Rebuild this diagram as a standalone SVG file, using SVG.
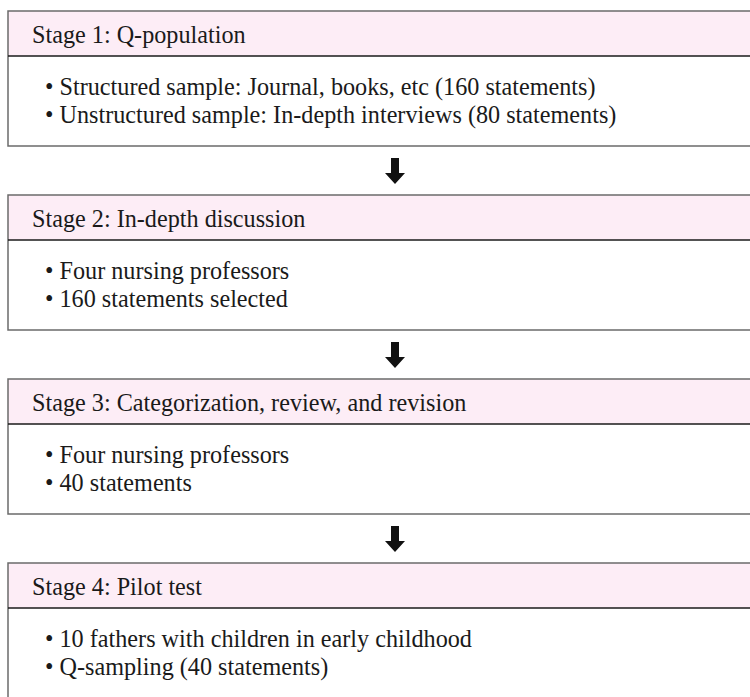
<svg xmlns="http://www.w3.org/2000/svg" width="750" height="697" viewBox="0 0 750 697">
<defs>
<style>
.hdr{fill:#fdedf6;}
.body{fill:#ffffff;}
.border{fill:none;stroke:#6b6b6b;stroke-width:1.5;}
.sep{stroke:#1a1a1a;stroke-width:1.5;}
.t{font-family:"Liberation Serif","Times New Roman",serif;font-size:24.2px;fill:#1a1a1a;}
.arrow{fill:#111111;}
</style>
</defs>
<rect x="0" y="0" width="750" height="697" fill="#ffffff"/>
<g id="stage1">
<rect class="body" x="8" y="11" width="760" height="135"/>
<rect class="hdr" x="8" y="11" width="760" height="45"/>
<path class="border" d="M760,11 H8 V146 H760"/>
<line class="sep" x1="8" y1="56" x2="760" y2="56"/>
<text class="t" x="32" y="42.5">Stage 1: Q-population</text>
<text class="t" x="45" y="95">• Structured sample: Journal, books, etc (160 statements)</text>
<text class="t" x="45" y="123">• Unstructured sample: In-depth interviews (80 statements)</text>
</g>
<g id="stage2">
<rect class="body" x="8" y="195" width="760" height="135"/>
<rect class="hdr" x="8" y="195" width="760" height="45"/>
<path class="border" d="M760,195 H8 V330 H760"/>
<line class="sep" x1="8" y1="240" x2="760" y2="240"/>
<text class="t" x="32" y="226.5">Stage 2: In-depth discussion</text>
<text class="t" x="45" y="279">• Four nursing professors</text>
<text class="t" x="45" y="307">• 160 statements selected</text>
</g>
<g id="stage3">
<rect class="body" x="8" y="379" width="760" height="135"/>
<rect class="hdr" x="8" y="379" width="760" height="45"/>
<path class="border" d="M760,379 H8 V514 H760"/>
<line class="sep" x1="8" y1="424" x2="760" y2="424"/>
<text class="t" x="32" y="410.5">Stage 3: Categorization, review, and revision</text>
<text class="t" x="45" y="463">• Four nursing professors</text>
<text class="t" x="45" y="491">• 40 statements</text>
</g>
<g id="stage4">
<rect class="body" x="8" y="563" width="760" height="140"/>
<rect class="hdr" x="8" y="563" width="760" height="45"/>
<path class="border" d="M760,563 H8 V710"/>
<line class="sep" x1="8" y1="608" x2="760" y2="608"/>
<text class="t" x="32" y="594.5">Stage 4: Pilot test</text>
<text class="t" x="45" y="647">• 10 fathers with children in early childhood</text>
<text class="t" x="45" y="675">• Q-sampling (40 statements)</text>
</g>
<g id="connectors">
<polygon class="arrow" points="391,158 399,158 399,173 405,173 395,184 385,173 391,173"/>
<polygon class="arrow" points="391,342 399,342 399,357 405,357 395,368 385,357 391,357"/>
<polygon class="arrow" points="391,526 399,526 399,541 405,541 395,552 385,541 391,541"/>
</g>
</svg>
